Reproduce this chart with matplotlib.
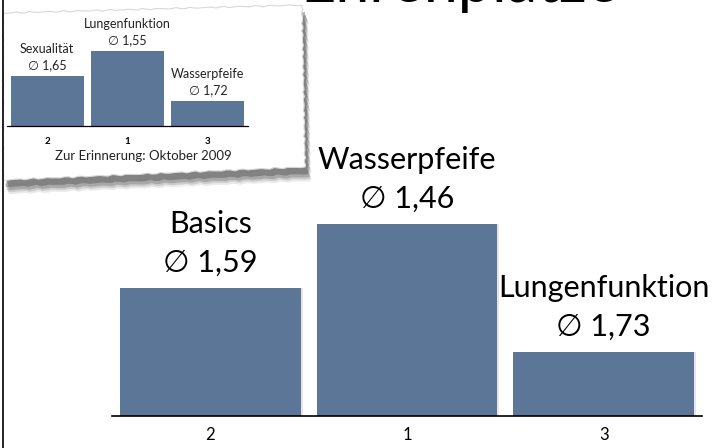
import numpy as np
import matplotlib
matplotlib.use('Agg')
from matplotlib import pyplot as plt
from matplotlib.patches import Polygon
from matplotlib.lines import Line2D

# current ranking
ranks = ['2', '1', '3']
podium = [2, 3, 1]
topics = ['Basics', 'Wasserpfeife', 'Lungenfunktion']
means = ['1,59', '1,46', '1,73']

# old ranking (Oktober 2009)
oldRanks = ['2', '1', '3']
oldPodium = [2, 3, 1]
oldTopics = ['Sexualität', 'Lungenfunktion', 'Wasserpfeife']
oldMeans = ['1,65', '1,55', '1,72']

title = 'Ehrenplätze'
oldNote = 'Zur Erinnerung: Oktober 2009'

barColor = '#5b7697'
W, H = 716, 448

plt.rcParams['font.family'] = ['Lato', 'DejaVu Sans']

fig = plt.figure(figsize=(W / 100, H / 100), dpi=100)


def pxAxes(x0, y0, x1, y1):
    # pixel box with top-left origin -> figure fractions
    return fig.add_axes([x0 / W, 1 - y1 / H, (x1 - x0) / W, (y1 - y0) / H])


def pxPoints(pts):
    return [(x / W, 1 - y / H) for x, y in pts]


def tornEdge(p0, p1, n, amp, seed):
    # wobbly line between two pixel points (deterministic wiggle)
    t = np.linspace(0, 1, n)
    x = p0[0] + (p1[0] - p0[0]) * t
    y = p0[1] + (p1[1] - p0[1]) * t
    dx, dy = p1[0] - p0[0], p1[1] - p0[1]
    L = np.hypot(dx, dy)
    nx, ny = -dy / L, dx / L
    k = np.arange(n)
    w = amp * (0.6 * np.sin(k * 1.7 + seed) + 0.4 * np.sin(k * 3.9 + 2 * seed))
    w[0] = w[-1] = 0
    return list(zip(x + nx * w, y + ny * w))


# ---- big title (mostly outside the slide) ----
fig.text(460 / W, 1 - 2 / H, title, ha='center', va='baseline', fontsize=44,
         color='black')

# ---- main chart ----
ax = pxAxes(112, 0, 702, 416)
ax.set_facecolor('none')
x = np.arange(len(ranks))
ax.bar(x + 0.01, podium, width=0.92, color='#000000', alpha=0.10, zorder=1)
ax.bar(x, podium, width=0.92, color=barColor, zorder=2)
ax.set_xlim(-0.5, 2.5)
ax.set_ylim(0, 6.5)
ax.set_xticks(x)
ax.set_xticklabels(ranks, fontsize=12)
ax.tick_params(axis='x', length=0, pad=8)
ax.set_yticks([])
for s in ['top', 'right', 'left']:
    ax.spines[s].set_visible(False)
ax.spines['bottom'].set_linewidth(1.2)
for i in range(len(ranks)):
    ax.annotate(topics[i], (x[i], podium[i]), xytext=(0, 64),
                textcoords='offset pixels', ha='center', va='center', fontsize=22)
    ax.annotate('\u2205 ' + means[i], (x[i], podium[i]), xytext=(0, 25),
                textcoords='offset pixels', ha='center', va='center', fontsize=22)

# ---- torn paper with the old chart ----
corners = [(3, 13), (302, 5), (305, 167), (3, 180)]
paper = []
for j in range(4):
    seg = tornEdge(corners[j], corners[(j + 1) % 4], 70, 0.9, j * 1.3)
    paper += seg[:-1]

shadow = [(px + 3, py + 7) for px, py in paper]
for off, a in [(7, 0.12), (5, 0.2), (3, 0.3), (0, 0.45)]:
    sh = [(px + off * 0.4, py + off) for px, py in shadow]
    fig.add_artist(Polygon(pxPoints(sh), closed=True, transform=fig.transFigure,
                           facecolor='#555555', edgecolor='none', alpha=a, zorder=1.5))
fig.add_artist(Polygon(pxPoints(paper), closed=True, transform=fig.transFigure,
                       facecolor='white', edgecolor='#d8d8d8', lw=0.8, zorder=2))

ax2 = pxAxes(7, 26, 248, 126)
ax2.set_zorder(3)
ax2.set_facecolor('none')
x2 = np.arange(len(oldRanks))
ax2.bar(x2, oldPodium, width=0.91, color=barColor)
ax2.set_xlim(-0.5, 2.5)
ax2.set_ylim(0, 4)
ax2.set_xticks(x2)
ax2.set_xticklabels(oldRanks, fontsize=7, fontweight='bold')
ax2.tick_params(axis='x', length=0, pad=8)
ax2.set_yticks([])
for s in ['top', 'right', 'left']:
    ax2.spines[s].set_visible(False)
ax2.spines['bottom'].set_linewidth(0.9)
for i in range(len(oldRanks)):
    ax2.annotate(oldTopics[i], (x2[i], oldPodium[i]), xytext=(0, 27),
                 textcoords='offset pixels', ha='center', va='center',
                 fontsize=9, color='#222222')
    ax2.annotate('\u2205 ' + oldMeans[i], (x2[i], oldPodium[i]), xytext=(0, 11),
                 textcoords='offset pixels', ha='center', va='center',
                 fontsize=9, color='#222222')
fig.text(143 / W, 1 - 156 / H, oldNote, ha='center', va='center', fontsize=9.5,
         color='#222222', zorder=4)

# left slide border
fig.add_artist(Line2D([3 / W, 3 / W], [0, 1], color='black', lw=1.2,
                      transform=fig.transFigure))

fig.savefig('out.png', dpi=100)
